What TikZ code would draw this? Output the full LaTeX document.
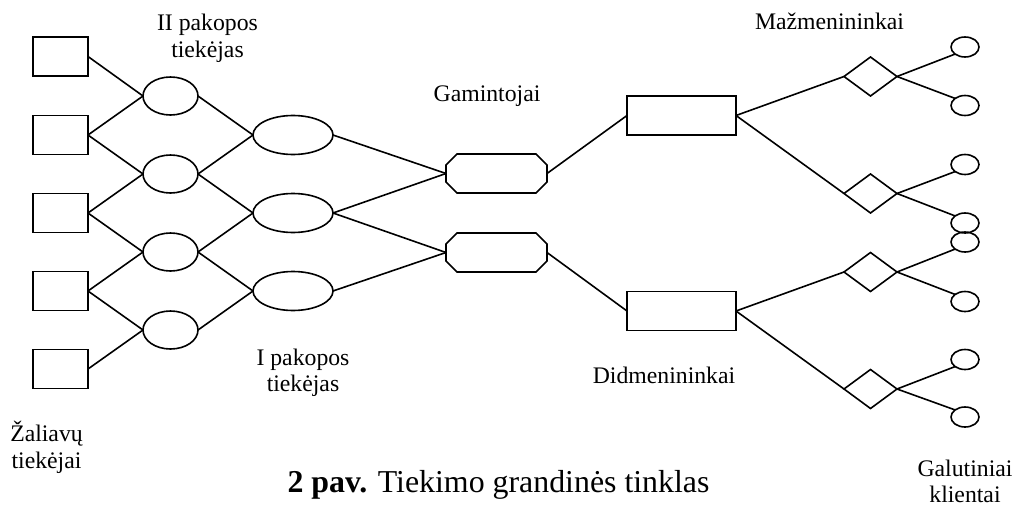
\documentclass[tikz,border=0pt]{standalone}
\usepackage{fontspec}
\setmainfont{Liberation Serif}
\usetikzlibrary{shapes.geometric}

\begin{document}
\begin{tikzpicture}[x=0.75pt,y=-0.75pt,
  every node/.style={inner sep=0pt,outer sep=0pt},
  shp/.style={draw,line width=1.2pt,inner sep=0pt,outer sep=0pt},
  srcbox/.style={shp,rectangle,minimum width=41.25pt,minimum height=29.25pt},
  supb/.style={shp,ellipse,minimum width=41.25pt,minimum height=28.5pt},
  supa/.style={shp,ellipse,minimum width=60pt,minimum height=29.25pt},
  % invisible frame of an octagonal box; the outline is drawn separately
  maker/.style={rectangle,minimum width=75.75pt,minimum height=29.25pt},
  octo/.style={line width=1.2pt,line join=miter},
  whole/.style={shp,rectangle,minimum width=81.75pt,minimum height=29.25pt},
  retail/.style={shp,diamond,minimum width=39.75pt,minimum height=29.25pt},
  client/.style={shp,ellipse,minimum width=21pt,minimum height=15pt},
  link/.style={line width=1.2pt},
  lbl/.style={font=\fontsize{17.8}{20}\selectfont,anchor=base},
  figcaption/.style={font=\fontsize{23.9}{28}\selectfont,anchor=base},
]
\useasboundingbox (0,0) rectangle (1016,510);

% raw material suppliers
\node[srcbox] (s1) at (60.5,56.5) {};
\node[srcbox] (s2) at (60.5,135) {};
\node[srcbox] (s3) at (60.5,213) {};
\node[srcbox] (s4) at (60.5,291) {};
\node[srcbox] (s5) at (60.5,369) {};

% second tier suppliers
\node[supb] (a1) at (170.5,96) {};
\node[supb] (a2) at (170.5,174) {};
\node[supb] (a3) at (170.5,252) {};
\node[supb] (a4) at (170.5,330) {};

% first tier suppliers
\node[supa] (b1) at (293,135) {};
\node[supa] (b2) at (293,213) {};
\node[supa] (b3) at (293,291) {};

% manufacturers (rectangles with cut corners)
\node[maker] (g1) at (496.5,173.5) {};
\node[maker] (g2) at (496.5,252.5) {};
\foreach \g in {g1,g2}
  \draw[octo] ([xshift=8.25pt]\g.north west) -- ([xshift=-8.25pt]\g.north east)
    -- ([yshift=-8.25pt]\g.north east) -- ([yshift=8.25pt]\g.south east)
    -- ([xshift=-8.25pt]\g.south east) -- ([xshift=8.25pt]\g.south west)
    -- ([yshift=8.25pt]\g.south west) -- ([yshift=-8.25pt]\g.north west) -- cycle;

% wholesalers
\node[whole] (w1) at (681.5,115.5) {};
\node[whole] (w2) at (681.5,311) {};

% retailers
\node[retail] (r1) at (870.5,76.5) {};
\node[retail] (r2) at (870.5,193.5) {};
\node[retail] (r3) at (870.5,272) {};
\node[retail] (r4) at (870.5,389) {};

% end customers
\node[client] (c1) at (965,47) {};
\node[client] (c2) at (965,105.5) {};
\node[client] (c3) at (965,164.5) {};
\node[client] (c4) at (965,223) {};
\node[client] (c5) at (965,242) {};
\node[client] (c6) at (965,301.5) {};
\node[client] (c7) at (965,359.5) {};
\node[client] (c8) at (965,417) {};

% links
\foreach \u/\v in {s1/a1,s2/a1,s2/a2,s3/a2,s3/a3,s4/a3,s4/a4,s5/a4,
                   a1/b1,a2/b1,a2/b2,a3/b2,a3/b3,a4/b3,
                   b1/g1,b2/g1,b2/g2,b3/g2,
                   g1/w1,g2/w2,
                   w1/r1,w1/r2,w2/r3,w2/r4}
  \draw[link] (\u.east) -- (\v.west);
\foreach \r/\p/\q in {r1/c1/c2,r2/c3/c4,r3/c5/c6,r4/c7/c8}{
  \draw[link] (\r.east) -- (\p.south west);
  \draw[link] (\r.east) -- (\q.north west);
}

% labels
\node[lbl] (t2a) at (207.5,30.7) {II pakopos};
\node[lbl] (t2b) at (207.5,57.3) {tiekėjas};
\node[lbl] (t1a) at (303,365) {I pakopos};
\node[lbl] (t1b) at (303,391.7) {tiekėjas};
\node[lbl] (tza) at (46.5,441.7) {Žaliavų};
\node[lbl] (tzb) at (46.5,468.3) {tiekėjai};
\node[lbl] (tg) at (487,101.7) {Gamintojai};
\node[lbl] (td) at (664,383) {Didmenininkai};
\node[lbl] (tm) at (829.5,30) {Mažmenininkai};
\node[lbl] (tca) at (965,476.7) {Galutiniai};
\node[lbl] (tcb) at (965,502.7) {klientai};

% caption
\node[figcaption] (caption) at (498.5,492.7) {\textbf{2 pav.} Tiekimo grandinės tinklas};
\end{tikzpicture}
\end{document}
